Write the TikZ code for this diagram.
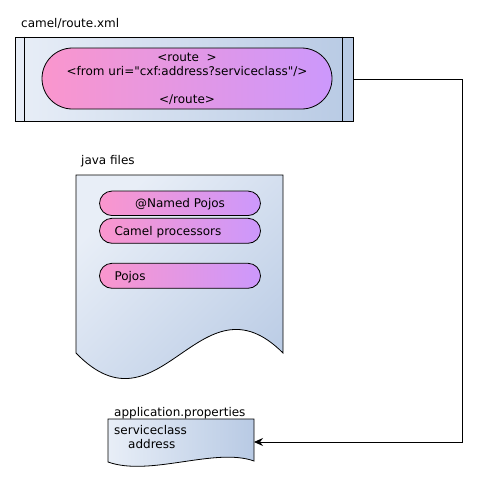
\documentclass[tikz,border=0pt]{standalone}
\usepackage{fontspec}
\newfontfamily\dvsans{DejaVu Sans}
\usetikzlibrary{arrows.meta}
\definecolor{docl}{RGB}{232,238,247}
\definecolor{docr}{RGB}{184,202,228}
\definecolor{pinkl}{RGB}{250,150,205}
\definecolor{pinkr}{RGB}{204,152,252}
\tikzset{
  txt/.style={font=\dvsans\fontsize{12}{14}\selectfont, inner sep=0pt},
  lbl/.style={txt, anchor=base west},
  pill/.style={draw, line width=0.8pt, rounded corners=#1, left color=pinkl, right color=pinkr, txt},
  beanpill/.style={pill=12.5pt, minimum width=161pt, minimum height=25pt, text height=11pt, text depth=2.4pt},
  filebox/.style={draw, line width=0.8pt, left color=docl, right color=docr},
  link/.style={line width=0.8pt, -{Stealth[length=9pt,width=8pt,inset=3pt]}},
}
\begin{document}
\begin{tikzpicture}[x=1pt,y=-1pt]
\useasboundingbox (0,0) rectangle (477,482);

% camel/route.xml
\node[lbl] (routelbl) at (21,27) {camel/route.xml};
\node[filebox, rectangle, minimum width=338pt, minimum height=84pt, inner sep=0pt] (route) at (184,79) {};
\draw[line width=0.8pt] ([xshift=10pt]route.north west) -- ([xshift=10pt]route.south west);
\draw[line width=0.8pt] ([xshift=-11pt]route.north east) -- ([xshift=-11pt]route.south east);
\node[pill=30.5pt, minimum width=290pt, minimum height=61pt, align=center] (routexml) at (187,78.5)
  {<route\ \ >\\<from uri="cxf:address?serviceclass"/>\\\mbox{}\\</route>};

% java files
\node[lbl] (javalbl) at (81,164) {java files};
\path[draw, line width=0.8pt, top color=docl, bottom color=docr, shading angle=45]
  (76,175) -- (283,175) -- (283,353)
  .. controls (200,270) and (160,440) .. (76,353) -- cycle;
\node[beanpill, minimum height=24.5pt] (named) at (180,203.3) {@Named Pojos};
\node[beanpill, text width=131pt, align=left] (procs) at (180,230.8) {Camel processors};
\node[beanpill, text width=131pt, align=left] (pojos) at (180,275.8) {Pojos};

% application.properties
\node[lbl] (proplbl) at (114,416.5) {application.properties};
\path[draw, line width=0.8pt, left color=docl, right color=docr]
  (108,419) -- (254,419) -- (254,461)
  .. controls (215,447) and (150,477) .. (108,462) -- cycle;
\node[txt, anchor=north west, align=left, inner sep=0pt] (props) at (114,425.5) {serviceclass\\\hspace{14pt}address};
\coordinate (propsin) at (254,442);

% route -> properties connector
\coordinate (bend) at (462,79);
\draw[link] (route.east) -- (bend) |- (propsin);
\end{tikzpicture}
\end{document}
